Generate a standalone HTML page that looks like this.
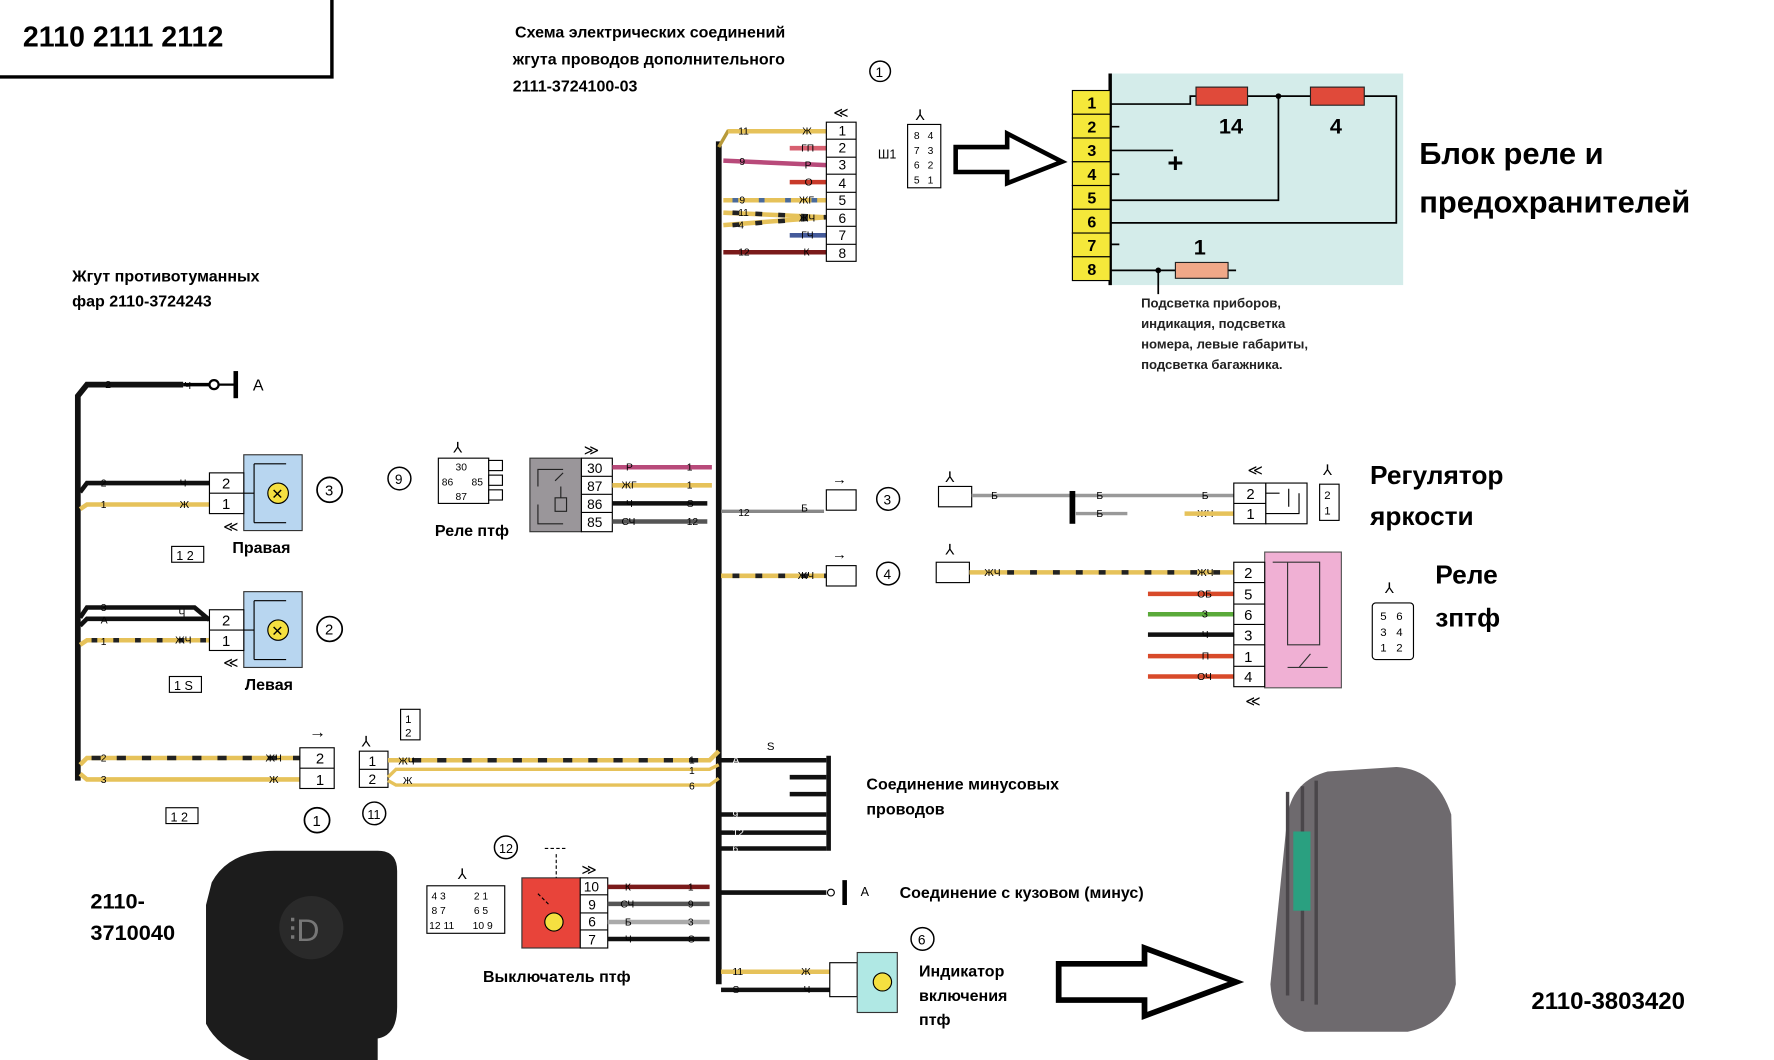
<!DOCTYPE html>
<html><head><meta charset="utf-8"><style>
html,body{margin:0;padding:0;background:#fff;}
svg{display:block}
text{font-family:"Liberation Sans",sans-serif;}
</style></head><body>
<svg width="1774" height="1060" viewBox="0 0 1550 937" preserveAspectRatio="none" xmlns="http://www.w3.org/2000/svg">
<rect width="1550" height="937" fill="#fff"/>
<!-- title box -->
<path d="M0 68 H290 V0" fill="none" stroke="#000" stroke-width="3"/>
<text x="20" y="41" font-size="25" font-weight="bold">2110 2111 2112</text>
<g font-size="14" font-weight="bold">
<text x="450" y="33">Схема электрических соединений</text>
<text x="448" y="57">жгута проводов дополнительного</text>
<text x="448" y="81">2111-3724100-03</text>
<text x="63" y="249">Жгут противотуманных</text>
<text x="63" y="271">фар 2110-3724243</text>
</g>
<circle cx="769" cy="63" r="9" fill="none" stroke="#000" stroke-width="1.3"/><text x="765" y="68" font-size="12">1</text>

<!-- main bus -->
<path d="M628 125 V870" stroke="#111" stroke-width="5"/>
<path d="M628 130 L636 116 H650" stroke="#b89a3a" stroke-width="3" fill="none"/>
<!-- connector 1 wires -->
<g stroke-width="4">
<line x1="636" y1="116" x2="722" y2="116" stroke="#e6c25a"/>
<line x1="690" y1="131" x2="722" y2="131" stroke="#d76070"/>
<line x1="632" y1="142" x2="722" y2="146" stroke="#b84a7a"/>
<line x1="690" y1="161" x2="722" y2="161" stroke="#c83a2a"/>
<line x1="632" y1="177" x2="722" y2="177" stroke="#e6c25a"/>
<line x1="632" y1="188" x2="722" y2="192" stroke="#e6c25a"/>
<line x1="632" y1="199" x2="722" y2="192" stroke="#e6c25a"/>
<line x1="690" y1="208" x2="722" y2="208" stroke="#445a9a"/>
<line x1="632" y1="223" x2="722" y2="223" stroke="#7a1a1a"/>
</g>
<g stroke="#222" stroke-width="4" stroke-dasharray="6 14">
<line x1="640" y1="188" x2="722" y2="192"/><line x1="640" y1="199" x2="722" y2="192"/>
</g>
<g stroke="#4a6a9a" stroke-width="4" stroke-dasharray="5 18"><line x1="640" y1="177" x2="722" y2="177"/></g>
<g font-size="9"><text x="645" y="119">11</text><text x="701" y="119">Ж</text><text x="700" y="134">ГП</text><text x="646" y="146">9</text><text x="703" y="149">Р</text><text x="703" y="164">О</text><text x="646" y="180">9</text><text x="698" y="180">ЖГ</text><text x="645" y="191">11</text><text x="645" y="202">4</text><text x="698" y="196">ЖЧ</text><text x="700" y="211">ГЧ</text><text x="645" y="226">12</text><text x="702" y="226">К</text></g>
<rect x="722" y="108" width="26" height="123" fill="#fff" stroke="#000"/>
<g font-size="12" text-anchor="middle">
<text x="736" y="120">1</text><text x="736" y="135">2</text><text x="736" y="150">3</text><text x="736" y="166">4</text><text x="736" y="181">5</text><text x="736" y="197">6</text><text x="736" y="212">7</text><text x="736" y="228">8</text></g>
<g stroke="#000"><line x1="722" y1="123" x2="748" y2="123"/><line x1="722" y1="139" x2="748" y2="139"/><line x1="722" y1="154" x2="748" y2="154"/><line x1="722" y1="170" x2="748" y2="170"/><line x1="722" y1="185" x2="748" y2="185"/><line x1="722" y1="200" x2="748" y2="200"/><line x1="722" y1="216" x2="748" y2="216"/></g>
<text x="728" y="104" font-size="13">≪</text>
<!-- Ш1 -->
<text x="767" y="140" font-size="11">Ш1</text>
<text x="800" y="106" font-size="13">⅄</text>
<rect x="793" y="110" width="29" height="56" fill="#fff" stroke="#000"/>
<g font-size="9" text-anchor="middle"><text x="801" y="123">8</text><text x="813" y="123">4</text><text x="801" y="136">7</text><text x="813" y="136">3</text><text x="801" y="149">6</text><text x="813" y="149">2</text><text x="801" y="162">5</text><text x="813" y="162">1</text></g>
<!-- hollow arrow -->
<path d="M835 130 H880 V118 L928 143 L880 162 V152 H835 Z" fill="#fff" stroke="#000" stroke-width="4"/>
<!-- fuse block -->
<rect x="970" y="65" width="256" height="187" fill="#d4ecea"/>
<line x1="970" y1="65" x2="970" y2="252" stroke="#000" stroke-width="3"/>
<g fill="#f5e83a" stroke="#000"><rect x="937" y="80" width="33" height="21"/><rect x="937" y="101" width="33" height="21"/><rect x="937" y="122" width="33" height="21"/><rect x="937" y="143" width="33" height="21"/><rect x="937" y="164" width="33" height="21"/><rect x="937" y="185" width="33" height="21"/><rect x="937" y="206" width="33" height="21"/><rect x="937" y="227" width="33" height="21"/></g>
<g font-size="14" font-weight="bold" text-anchor="middle"><text x="954" y="96">1</text><text x="954" y="117">2</text><text x="954" y="138">3</text><text x="954" y="159">4</text><text x="954" y="180">5</text><text x="954" y="201">6</text><text x="954" y="222">7</text><text x="954" y="243">8</text></g>
<g stroke="#000" stroke-width="1.5" fill="none">
<path d="M970 92 H1040 V85 H1220 V197 H970"/>
<path d="M970 177 H1117 V85"/>
<path d="M970 133 H1025"/>
<path d="M970 112 H978 M970 154 H978 M970 216 H978"/>
<path d="M970 239 H1080 M1012 239 V260"/>
</g>
<circle cx="1117" cy="85" r="2.5"/><circle cx="1012" cy="239" r="2.5"/>
<rect x="1045" y="77" width="45" height="16" fill="#e04a3a" stroke="#222"/>
<rect x="1145" y="77" width="47" height="16" fill="#e04a3a" stroke="#222"/>
<rect x="1027" y="232" width="46" height="14" fill="#f0a888" stroke="#222"/>
<g font-size="19" font-weight="bold"><text x="1065" y="118">14</text><text x="1162" y="118">4</text><text x="1043" y="225">1</text><text x="1020" y="152" font-size="24">+</text></g>
<g font-size="27" font-weight="bold"><text x="1240" y="145">Блок реле и</text><text x="1240" y="188">предохранителей</text></g>
<g font-size="11.5" font-weight="bold" fill="#222"><text x="997" y="272">Подсветка приборов,</text><text x="997" y="290">индикация, подсветка</text><text x="997" y="308">номера, левые габариты,</text><text x="997" y="326">подсветка багажника.</text></g>

<!-- left bus -->
<path d="M68 690 V350 L76 340 H160" stroke="#111" stroke-width="5" fill="none"/>
<circle cx="187" cy="340" r="4" fill="#fff" stroke="#000" stroke-width="2"/>
<line x1="160" y1="340" x2="183" y2="340" stroke="#000" stroke-width="3"/>
<line x1="206" y1="328" x2="206" y2="352" stroke="#000" stroke-width="4"/>
<line x1="191" y1="340" x2="206" y2="340" stroke="#000" stroke-width="2"/>
<text x="221" y="345" font-size="14">A</text>
<g font-size="9"><text x="92" y="343">2</text><text x="161" y="344">Ч</text></g>
<!-- right lamp -->
<path d="M70 435 L76 427 H183" stroke="#111" stroke-width="4" fill="none"/>
<path d="M70 450 L76 446 H183" stroke="#e6c25a" stroke-width="4" fill="none"/>
<g font-size="9"><text x="88" y="430">2</text><text x="157" y="430">Ч</text><text x="88" y="449">1</text><text x="157" y="449">Ж</text></g>
<rect x="213" y="402" width="51" height="67" fill="#b8d6f0" stroke="#333"/>
<rect x="183" y="418" width="30" height="36" fill="#fff" stroke="#000"/><line x1="183" y1="436" x2="213" y2="436" stroke="#000"/>
<text x="194" y="432" font-size="13">2</text><text x="194" y="450" font-size="13">1</text>
<circle cx="243" cy="436" r="9" fill="#f5e040" stroke="#000"/><text x="237" y="441" font-size="13">✕</text>
<path d="M213 436 H222 M222 410 V462 M222 410 H250 M222 462 H250" stroke="#000" fill="none"/>
<text x="195" y="470" font-size="13">≪</text>
<circle cx="288" cy="433" r="11" fill="none" stroke="#000" stroke-width="1.5"/><text x="284" y="438" font-size="13">3</text>
<rect x="150" y="483" width="28" height="14" fill="#fff" stroke="#000"/><text x="154" y="495" font-size="11">1 2</text>
<text x="203" y="489" font-size="14" font-weight="bold">Правая</text>
<!-- left lamp -->
<path d="M70 546 L76 537 H170 L183 548" stroke="#111" stroke-width="4" fill="none"/>
<path d="M70 553 L76 547 H183" stroke="#111" stroke-width="4" fill="none"/>
<path d="M70 570 L76 566 H183" stroke="#e6c25a" stroke-width="4" fill="none"/>
<path d="M80 566 H183" stroke="#222" stroke-width="4" stroke-dasharray="5 14" fill="none"/>
<g font-size="9"><text x="88" y="540">3</text><text x="88" y="551">A</text><text x="156" y="545">Ч</text><text x="88" y="570">1</text><text x="153" y="569">ЖЧ</text></g>
<rect x="213" y="523" width="51" height="67" fill="#b8d6f0" stroke="#333"/>
<rect x="183" y="539" width="30" height="36" fill="#fff" stroke="#000"/><line x1="183" y1="557" x2="213" y2="557" stroke="#000"/>
<text x="194" y="553" font-size="13">2</text><text x="194" y="571" font-size="13">1</text>
<circle cx="243" cy="557" r="9" fill="#f5e040" stroke="#000"/><text x="237" y="562" font-size="13">✕</text>
<path d="M213 557 H222 M222 531 V583 M222 531 H250 M222 583 H250" stroke="#000" fill="none"/>
<text x="195" y="590" font-size="13">≪</text>
<circle cx="288" cy="556" r="11" fill="none" stroke="#000" stroke-width="1.5"/><text x="284" y="561" font-size="13">2</text>
<rect x="148" y="598" width="28" height="14" fill="#fff" stroke="#000"/><text x="152" y="610" font-size="11">1 S</text>
<text x="214" y="610" font-size="14" font-weight="bold">Левая</text>

<!-- bottom-left wires -->
<path d="M70 676 L76 670 H262" stroke="#e6c25a" stroke-width="4" fill="none"/>
<path d="M80 670 H262" stroke="#222" stroke-width="4" stroke-dasharray="8 14" fill="none"/>
<path d="M70 684 L76 689 H262" stroke="#e6c25a" stroke-width="4" fill="none"/>
<g font-size="9"><text x="88" y="673">2</text><text x="232" y="673">ЖЧ</text><text x="88" y="692">3</text><text x="235" y="692">Ж</text></g>
<rect x="262" y="661" width="30" height="36" fill="#fff" stroke="#000"/><line x1="262" y1="679" x2="292" y2="679" stroke="#000"/>
<text x="276" y="675" font-size="13">2</text><text x="276" y="694" font-size="13">1</text>
<text x="270" y="652" font-size="15">→</text>
<rect x="145" y="714" width="28" height="14" fill="#fff" stroke="#000"/><text x="149" y="726" font-size="11">1 2</text>
<circle cx="277" cy="725" r="11" fill="none" stroke="#000" stroke-width="1.5"/><text x="273" y="730" font-size="13">1</text>
<rect x="314" y="664" width="25" height="32" fill="#fff" stroke="#000"/><line x1="314" y1="680" x2="339" y2="680" stroke="#000"/>
<text x="322" y="677" font-size="12">1</text><text x="322" y="693" font-size="12">2</text>
<text x="316" y="660" font-size="13">⅄</text>
<rect x="350" y="627" width="17" height="27" fill="#fff" stroke="#000"/><text x="354" y="639" font-size="10">1</text><text x="354" y="651" font-size="10">2</text>
<circle cx="327" cy="719" r="10" fill="none" stroke="#000" stroke-width="1.3"/><text x="321" y="724" font-size="11">11</text>
<path d="M339 672 H620 L628 664" stroke="#e6c25a" stroke-width="4" fill="none"/>
<path d="M360 672 H610" stroke="#222" stroke-width="4" stroke-dasharray="8 14" fill="none"/>
<path d="M339 687 L346 680 H620 L628 676" stroke="#e6c25a" stroke-width="3" fill="none"/>
<path d="M339 690 L346 694 H620 L628 688" stroke="#e6c25a" stroke-width="3" fill="none"/>
<g font-size="9"><text x="348" y="676">ЖЧ</text><text x="352" y="693">Ж</text><text x="602" y="675">1</text><text x="602" y="684">1</text><text x="602" y="698">6</text></g>

<!-- relay ptf -->
<circle cx="349" cy="423" r="10" fill="none" stroke="#000" stroke-width="1.3"/><text x="345" y="428" font-size="12">9</text>
<text x="396" y="400" font-size="13">⅄</text>
<rect x="383" y="405" width="44" height="40" fill="#fff" stroke="#000"/>
<g font-size="9"><text x="398" y="416">30</text><text x="386" y="429">86</text><text x="412" y="429">85</text><text x="398" y="442">87</text></g>
<rect x="427" y="407" width="12" height="9" fill="#fff" stroke="#000"/><rect x="427" y="420" width="12" height="9" fill="#fff" stroke="#000"/><rect x="427" y="433" width="12" height="9" fill="#fff" stroke="#000"/>
<text x="380" y="474" font-size="14" font-weight="bold">Реле птф</text>
<rect x="463" y="405" width="45" height="65" fill="#9a969a" stroke="#333"/>
<path d="M470 430 V415 H492 M470 446 V463 H492 M485 425 L492 418 M490 430 V440 M485 440 H495 V452 H485 Z" stroke="#222" fill="none"/>
<rect x="508" y="405" width="27" height="65" fill="#fff" stroke="#000"/>
<g stroke="#000"><line x1="508" y1="421" x2="535" y2="421"/><line x1="508" y1="437" x2="535" y2="437"/><line x1="508" y1="453" x2="535" y2="453"/></g>
<g font-size="12"><text x="513" y="418">30</text><text x="513" y="434">87</text><text x="513" y="450">86</text><text x="513" y="466">85</text></g>
<text x="510" y="402" font-size="13">≫</text>
<line x1="535" y1="413" x2="622" y2="413" stroke="#b84a7a" stroke-width="4"/>
<line x1="535" y1="429" x2="622" y2="429" stroke="#e6c25a" stroke-width="4"/>
<line x1="535" y1="445" x2="618" y2="445" stroke="#111" stroke-width="4"/>
<line x1="535" y1="461" x2="618" y2="461" stroke="#555" stroke-width="4"/>
<g font-size="9"><text x="547" y="416">Р</text><text x="543" y="432">ЖГ</text><text x="547" y="448">Ч</text><text x="543" y="464">СЧ</text><text x="600" y="416">1</text><text x="600" y="432">1</text><text x="600" y="448">S</text><text x="600" y="464">12</text></g>
<!-- regulator -->
<path d="M630 452 L640 452 H720" stroke="#888" stroke-width="3" fill="none"/>
<text x="645" y="456" font-size="9">12</text><text x="700" y="452" font-size="9">Б</text>
<rect x="722" y="433" width="26" height="18" fill="#fff" stroke="#000"/><text x="727" y="428" font-size="13">→</text>
<circle cx="776" cy="441" r="10" fill="none" stroke="#000" stroke-width="1.3"/><text x="772" y="446" font-size="12">3</text>
<text x="826" y="426" font-size="13">⅄</text>
<rect x="820" y="430" width="29" height="18" fill="#fff" stroke="#000"/>
<path d="M849 438 H1078 M940 454 H985" stroke="#999" stroke-width="3"/>
<line x1="937" y1="434" x2="937" y2="463" stroke="#000" stroke-width="5"/>
<g font-size="9"><text x="866" y="441">Б</text><text x="958" y="441">Б</text><text x="958" y="457">Б</text><text x="1050" y="441">Б</text><text x="1046" y="457">ЖЧ</text></g>
<line x1="1035" y1="454" x2="1078" y2="454" stroke="#e6c25a" stroke-width="4"/>
<rect x="1078" y="427" width="28" height="36" fill="#fff" stroke="#000"/><line x1="1078" y1="445" x2="1106" y2="445" stroke="#000"/>
<text x="1089" y="441" font-size="13">2</text><text x="1089" y="459" font-size="13">1</text>
<rect x="1106" y="427" width="36" height="36" fill="#fff" stroke="#000"/>
<path d="M1106 436 H1118 M1106 454 H1135 V436 M1126 432 V448" stroke="#000" fill="none"/>
<text x="1090" y="420" font-size="13">≪</text><text x="1156" y="420" font-size="13">⅄</text>
<rect x="1153" y="428" width="17" height="32" fill="#fff" stroke="#000"/><text x="1157" y="441" font-size="10">2</text><text x="1157" y="455" font-size="10">1</text>
<g font-size="23" font-weight="bold"><text x="1197" y="428">Регулятор</text><text x="1197" y="464">яркости</text></g>
<!-- relay zptf -->
<line x1="630" y1="509" x2="722" y2="509" stroke="#e6c25a" stroke-width="4"/>
<line x1="640" y1="509" x2="722" y2="509" stroke="#222" stroke-width="4" stroke-dasharray="6 14"/>
<text x="697" y="512" font-size="9">ЖЧ</text>
<rect x="722" y="500" width="26" height="18" fill="#fff" stroke="#000"/><text x="727" y="494" font-size="13">→</text>
<circle cx="776" cy="507" r="10" fill="none" stroke="#000" stroke-width="1.3"/><text x="772" y="512" font-size="12">4</text>
<text x="826" y="490" font-size="13">⅄</text>
<rect x="818" y="497" width="29" height="18" fill="#fff" stroke="#000"/>
<line x1="847" y1="506" x2="1078" y2="506" stroke="#e6c25a" stroke-width="4"/>
<line x1="880" y1="506" x2="1078" y2="506" stroke="#222" stroke-width="4" stroke-dasharray="6 14"/>
<text x="860" y="509" font-size="9">ЖЧ</text><text x="1046" y="509" font-size="9">ЖЧ</text>
<g stroke-width="4"><line x1="1003" y1="525" x2="1078" y2="525" stroke="#d84a2a"/><line x1="1003" y1="543" x2="1078" y2="543" stroke="#5aaa3a"/><line x1="1003" y1="561" x2="1078" y2="561" stroke="#111"/><line x1="1003" y1="580" x2="1078" y2="580" stroke="#d84a2a"/><line x1="1003" y1="598" x2="1078" y2="598" stroke="#d84a2a"/></g>
<g font-size="9"><text x="1046" y="528">ОБ</text><text x="1050" y="546">З</text><text x="1050" y="564">Ч</text><text x="1050" y="583">П</text><text x="1046" y="601">ОЧ</text></g>
<rect x="1105" y="488" width="67" height="120" fill="#f0b0d4" stroke="#555"/>
<path d="M1112 497 H1153 V570 H1125 V497 M1135 590 L1145 578 M1125 590 H1160" stroke="#333" fill="none"/>
<rect x="1078" y="497" width="27" height="110" fill="#fff" stroke="#000"/>
<g stroke="#000"><line x1="1078" y1="515" x2="1105" y2="515"/><line x1="1078" y1="534" x2="1105" y2="534"/><line x1="1078" y1="552" x2="1105" y2="552"/><line x1="1078" y1="570" x2="1105" y2="570"/><line x1="1078" y1="589" x2="1105" y2="589"/></g>
<g font-size="13"><text x="1087" y="511">2</text><text x="1087" y="530">5</text><text x="1087" y="548">6</text><text x="1087" y="566">3</text><text x="1087" y="585">1</text><text x="1087" y="603">4</text></g>
<text x="1088" y="624" font-size="13">≪</text>
<text x="1210" y="524" font-size="13">⅄</text>
<rect x="1199" y="533" width="36" height="50" rx="3" fill="#fff" stroke="#000"/>
<g font-size="10"><text x="1206" y="548">5</text><text x="1220" y="548">6</text><text x="1206" y="562">3</text><text x="1220" y="562">4</text><text x="1206" y="576">1</text><text x="1220" y="576">2</text></g>
<g font-size="23" font-weight="bold"><text x="1254" y="516">Реле</text><text x="1254" y="554">зптф</text></g>
<!-- minus connections -->
<text x="670" y="663" font-size="10">S</text>
<g stroke="#111" stroke-width="4"><line x1="630" y1="672" x2="722" y2="672"/><line x1="690" y1="687" x2="722" y2="687"/><line x1="690" y1="702" x2="722" y2="702"/><line x1="630" y1="720" x2="722" y2="720"/><line x1="630" y1="736" x2="722" y2="736"/><line x1="630" y1="750" x2="722" y2="750"/></g>
<line x1="724" y1="668" x2="724" y2="752" stroke="#111" stroke-width="4"/>
<g font-size="9" fill="#fff"><text x="640" y="675">A</text><text x="640" y="723">9</text><text x="640" y="739">12</text><text x="640" y="753">6</text></g>
<g font-size="14" font-weight="bold"><text x="757" y="698">Соединение минусовых</text><text x="757" y="720">проводов</text><text x="786" y="794">Соединение с кузовом (минус)</text></g>
<line x1="630" y1="789" x2="722" y2="789" stroke="#111" stroke-width="4"/>
<circle cx="726" cy="789" r="3" fill="#fff" stroke="#000"/>
<line x1="738" y1="778" x2="738" y2="800" stroke="#000" stroke-width="4"/><text x="752" y="792" font-size="11">A</text>
<!-- switch -->
<circle cx="442" cy="749" r="10" fill="none" stroke="#000" stroke-width="1.3"/><text x="436" y="754" font-size="11">12</text>
<text x="400" y="777" font-size="13">⅄</text>
<rect x="373" y="783" width="68" height="42" fill="#fff" stroke="#000"/>
<g font-size="9"><text x="377" y="795">4 3</text><text x="414" y="795">2 1</text><text x="377" y="808">8 7</text><text x="414" y="808">6 5</text><text x="375" y="821">12 11</text><text x="413" y="821">10 9</text></g>
<rect x="456" y="776" width="51" height="62" fill="#e8443a" stroke="#333"/>
<circle cx="484" cy="815" r="8" fill="#f5e040" stroke="#000"/>
<path d="M486 755 V776 M476 750 H496 M470 790 L480 800" stroke="#000" fill="none" stroke-dasharray="3 2"/>
<rect x="507" y="776" width="24" height="62" fill="#fff" stroke="#000"/>
<g stroke="#000"><line x1="507" y1="791" x2="531" y2="791"/><line x1="507" y1="807" x2="531" y2="807"/><line x1="507" y1="822" x2="531" y2="822"/></g>
<g font-size="12"><text x="510" y="788">10</text><text x="514" y="804">9</text><text x="514" y="819">6</text><text x="514" y="835">7</text></g>
<text x="508" y="773" font-size="13">≫</text>
<g stroke-width="4"><line x1="531" y1="784" x2="620" y2="784" stroke="#7a1a1a"/><line x1="531" y1="799" x2="620" y2="799" stroke="#555"/><line x1="531" y1="815" x2="620" y2="815" stroke="#aaa"/><line x1="531" y1="830" x2="620" y2="830" stroke="#111"/></g>
<g font-size="9"><text x="546" y="787">К</text><text x="542" y="802">СЧ</text><text x="546" y="818">Б</text><text x="546" y="833">Ч</text><text x="601" y="787">1</text><text x="601" y="802">9</text><text x="601" y="818">3</text><text x="601" y="833">S</text></g>
<text x="422" y="868" font-size="14" font-weight="bold">Выключатель птф</text>
<!-- indicator -->
<line x1="630" y1="859" x2="725" y2="859" stroke="#e6c25a" stroke-width="4"/>
<line x1="630" y1="875" x2="725" y2="875" stroke="#111" stroke-width="4"/>
<g font-size="9"><text x="640" y="862">11</text><text x="700" y="862">Ж</text><text x="640" y="878">S</text><text x="702" y="878">Ч</text></g>
<rect x="725" y="851" width="24" height="30" fill="#fff" stroke="#000"/>
<rect x="749" y="842" width="35" height="53" fill="#b0e8e4" stroke="#333"/>
<circle cx="771" cy="868" r="8" fill="#f5e040" stroke="#000"/>
<circle cx="806" cy="830" r="10" fill="none" stroke="#000" stroke-width="1.3"/><text x="802" y="835" font-size="12">6</text>
<g font-size="14" font-weight="bold"><text x="803" y="863">Индикатор</text><text x="803" y="885">включения</text><text x="803" y="906">птф</text></g>
<path d="M925 852 H1000 V838 L1080 868 L1000 898 V884 H925 Z" fill="#fff" stroke="#000" stroke-width="5"/>
<!-- switch photo -->
<path d="M185 780 Q200 752 240 752 H330 Q347 752 347 770 V890 Q347 915 330 918 V937 H218 Q190 925 180 905 V800 Z" fill="#1c1c1c"/>
<circle cx="272" cy="820" r="28" fill="#2a2a2a"/>
<text x="252" y="832" font-size="28" fill="#777">⫶D</text>
<g font-size="19" font-weight="bold"><text x="79" y="803">2110-</text><text x="79" y="831">3710040</text></g>
<!-- relay photo -->
<path d="M1125 720 Q1130 690 1160 682 L1220 678 Q1255 680 1268 720 L1272 870 Q1265 905 1230 912 L1140 912 Q1112 905 1110 870 Z" fill="#6e6a6e"/>
<path d="M1125 700 V880 M1138 695 V885 M1150 690 V888" stroke="#4a464a" stroke-width="3"/>
<rect x="1130" y="735" width="15" height="70" fill="#2aa080"/>
<text x="1338" y="892" font-size="21" font-weight="bold">2110-3803420</text>
</svg>
</body></html>
